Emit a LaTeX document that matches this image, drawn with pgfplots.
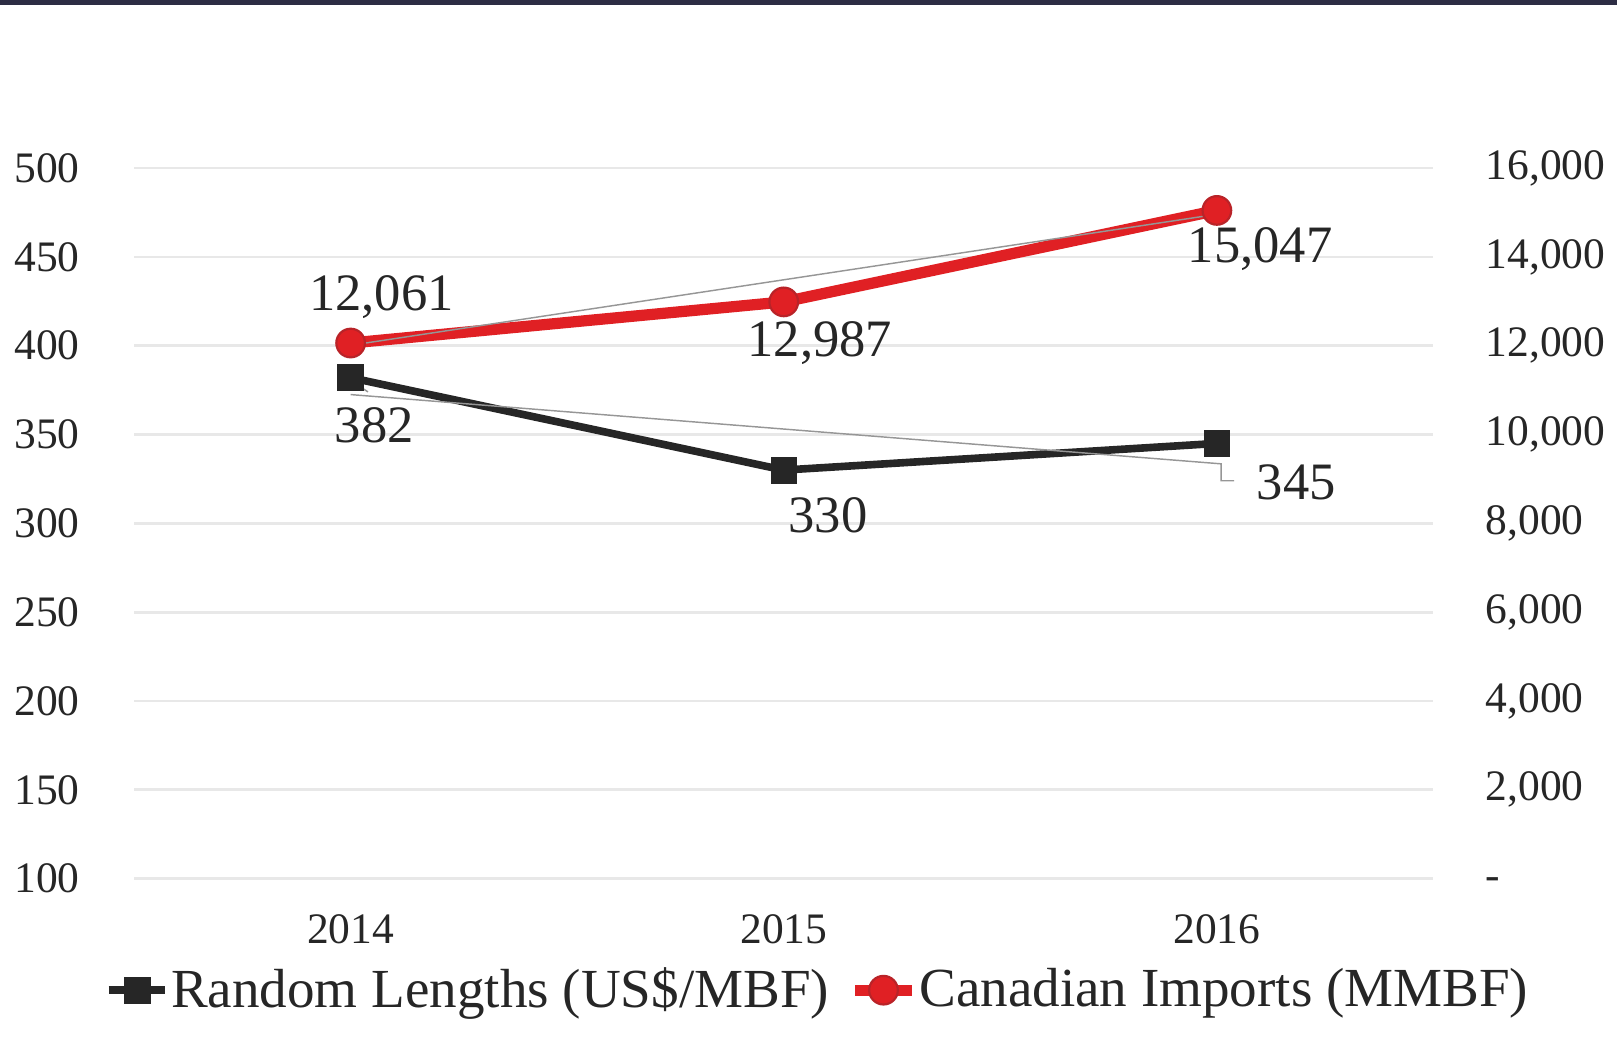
\documentclass[border=0pt]{standalone}
\usepackage{fontspec}
\setmainfont{Liberation Serif}
\usepackage{pgfplots}
\pgfplotsset{compat=1.18}
\usepackage{pgfplotstable}
\definecolor{lineblack}{RGB}{38,38,38}
\definecolor{linered}{RGB}{224,32,36}
\definecolor{rededge}{RGB}{185,35,40}
\definecolor{gridc}{RGB}{232,232,232}
\definecolor{topbar}{RGB}{45,45,68}
\definecolor{leader}{RGB}{150,150,150}

\pgfplotstableread{
x y lab dx dy
0 382 382 0.23 -0.46
1 330 330 0.43 -0.44
2 345 345 0.77 -0.38
}\rl
\pgfplotstableread{
x y lab dx dy
0 12061 12,061 0.30 0.45
1 12987 12,987 0.35 -0.40
2 15047 15,047 0.42 -0.37
}\ci

\pgfplotsset{
  base/.style={
    at={(1.30cm,1.58cm)}, anchor=south west,
    scale only axis, width=12.6cm, height=6.89cm,
    xmin=-0.5, xmax=2.5,
    axis line style={draw=none}, major tick length=0pt,
    clip=false, scaled y ticks=false,
    /pgf/number format/assume math mode=true,
  },
  rlstyle/.style={color=lineblack, line width=2.1pt, mark=square*, mark size=3.55pt, mark options={solid, fill=lineblack, draw=lineblack, line width=0.2pt}},
  cistyle/.style={color=linered, line width=3.1pt, mark=*, mark size=3.95pt, mark options={solid, fill=linered, draw=rededge, line width=0.6pt}},
  lab/.style={point meta=explicit symbolic,
    visualization depends on=\thisrow{dx}\as\dx,
    visualization depends on=\thisrow{dy}\as\dy,
    nodes near coords, nodes near coords style={anchor=center, inner sep=0pt, text=black!85, font=\fontsize{14.5}{17}\selectfont, xshift=\dx cm, yshift=\dy cm}},
}

\begin{document}
\begin{tikzpicture}
\path[use as bounding box] (0,0) rectangle (15.68,10.10);
\fill[topbar] (0,10.055) rectangle (15.68,10.10);

\begin{axis}[base,
  ymin=100, ymax=500, ytick={100,150,...,500},
  ymajorgrids, grid style={gridc, line width=0.75pt},
  xtick={0,1,2}, xticklabels={2014,2015,2016},
  xticklabel style={font=\fontsize{12}{14}\selectfont, anchor=north, inner sep=0pt, yshift=-0.34cm, text=black!85},
  yticklabel pos=left,
  yticklabel style={font=\fontsize{12}{14}\selectfont, anchor=east, inner sep=0pt, xshift=-0.52cm, text=black!85},
]
\addplot[rlstyle, lab] table[x=x, y=y, meta=lab] {\rl};
\addplot[leader, line width=0.4pt, forget plot] coordinates {(0,372.5) (2.01,333.5) (2.01,324) (2.04,324)};
\addplot[leader, line width=0.4pt, forget plot] coordinates {(0.01,379) (0.04,374)};
\end{axis}

\begin{axis}[base,
  ymin=0, ymax=16000, ytick={0,2000,...,16000},
  yticklabels={\smash{\raisebox{-0.25em}{-}},{2,000},{4,000},{6,000},{8,000},{10,000},{12,000},{14,000},{16,000}},
  xtick=\empty,
  yticklabel pos=right,
  yticklabel style={font=\fontsize{12}{14}\selectfont, anchor=west, inner sep=0pt, xshift=0.50cm, text=black!85},
  legend columns=2,
  legend style={at={(0.526,-0.157)}, anchor=center, draw=none, fill=none,
    font=\fontsize{15.2}{18}\selectfont, text=black!85,
    nodes={inner xsep=0.5pt, inner ysep=1pt},
    /tikz/every even column/.append style={column sep=0.18cm}},
  legend image code/.code={
    \draw[#1, mark=none] (0cm,0cm) -- (0.55cm,0cm);
    \draw[#1] plot coordinates {(0.275cm,0cm)};
  },
]
\addlegendimage{rlstyle}
\addlegendentry{Random Lengths (US\$/MBF)}
\addplot[cistyle, lab] table[x=x, y=y, meta=lab] {\ci};
\addlegendentry{Canadian Imports (MMBF)}
\addplot[leader, line width=0.4pt, forget plot] coordinates {(0,12010) (2,14960)};
\end{axis}
\end{tikzpicture}
\end{document}
